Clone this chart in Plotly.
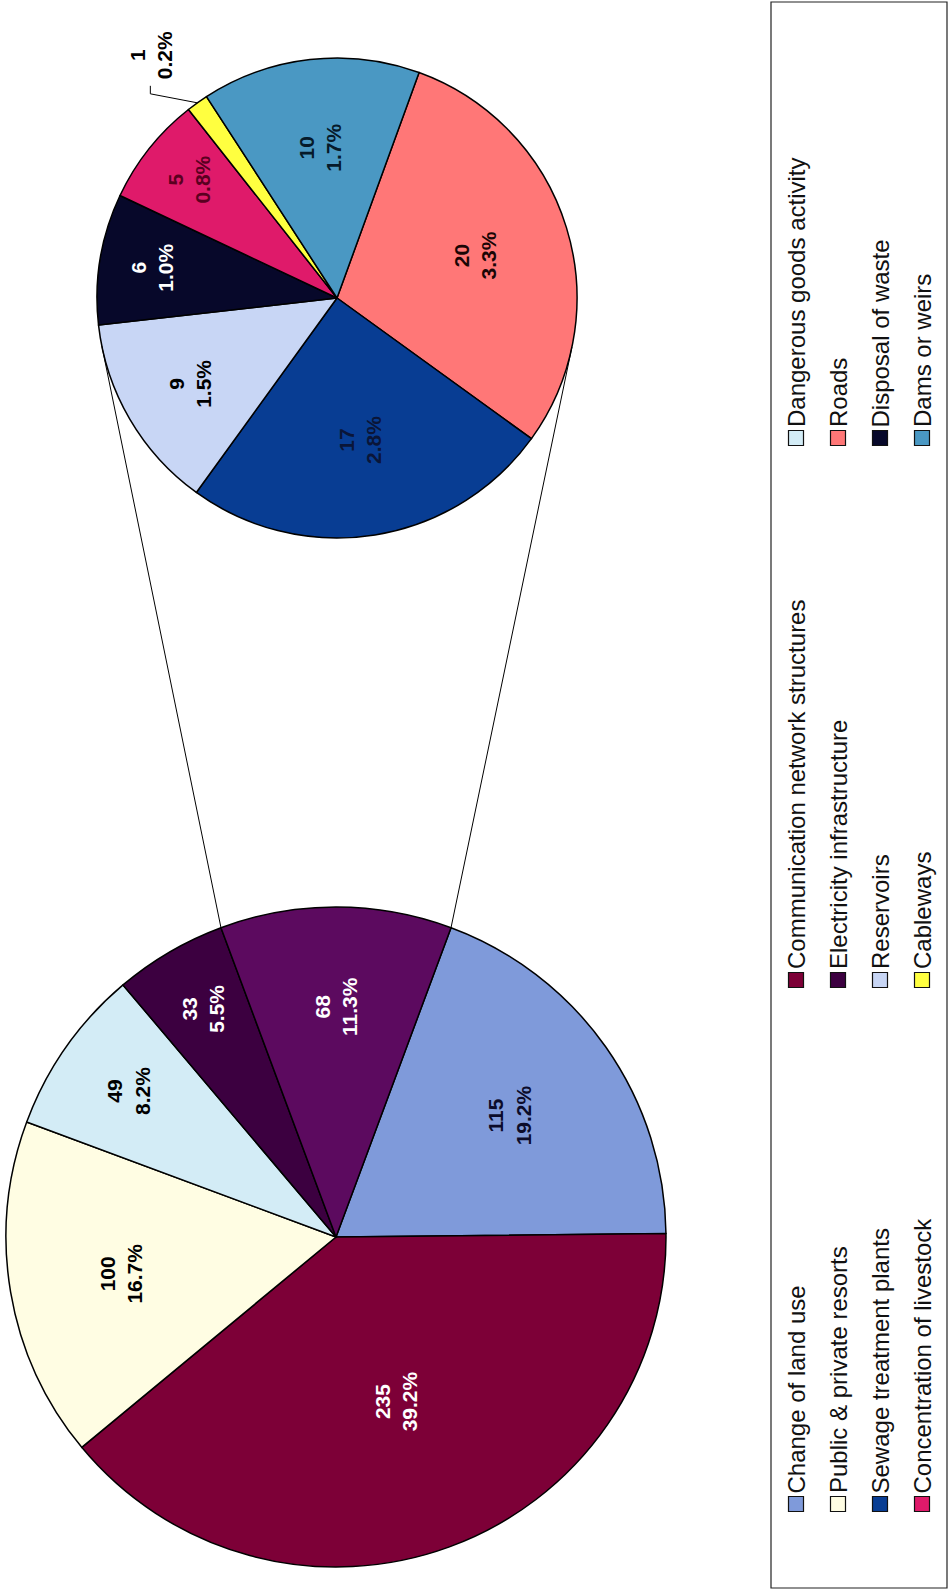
import math
import plotly.graph_objects as go

W, H = 949, 1594
FONT = "Arial, 'Liberation Sans', sans-serif"

# ---- data -------------------------------------------------------------
main_labels = ["Change of land use", "Communication network structures",
               "Public & private resorts", "Dangerous goods activity",
               "Electricity infrastructure", "Other"]
main_values = [115, 235, 100, 49, 33, 68]
main_colors = ["#7F9ADA", "#7D0037", "#FFFDE3", "#D3ECF6", "#3C0040", "#5C0A5F"]
main_text_colors = ["#0B0B2A", "#FFFFFF", "#000000", "#000000", "#FFFFFF", "#FFFFFF"]

sub_labels = ["Roads", "Sewage treatment plants", "Reservoirs", "Disposal of waste",
              "Concentration of livestock", "Cableways", "Dams or weirs"]
sub_values = [20, 17, 9, 6, 5, 1, 10]
sub_colors = ["#FF7777", "#083D93", "#C8D6F5", "#07082A", "#DF1A6A", "#FFFF40", "#4A98C3"]
sub_text_colors = ["#1A0505", "#0A1538", "#000000", "#FFFFFF", "#5A0020", "#000000", "#061A2A"]

legend_columns = [
    ["Change of land use", "Public & private resorts",
     "Sewage treatment plants", "Concentration of livestock"],
    ["Communication network structures", "Electricity infrastructure",
     "Reservoirs", "Cableways"],
    ["Dangerous goods activity", "Roads", "Disposal of waste", "Dams or weirs"],
]

total = sum(main_values)

# ---- layout geometry (pixels) ----------------------------------------
BIG = dict(cx=336, cy=1237, r=330)
SMALL = dict(cx=337, cy=298, r=240)
SMALL_ROTATION = 20
main_label_r = [0.64, 0.53, 0.66, 0.77, 0.80, 0.70]
sub_label_r = [0.60, 0.60, 0.71, 0.78, 0.79, None, 0.63]


def px(x):
    return x / W


def py(y):
    return 1 - y / H


def domain(g):
    return dict(x=[px(g["cx"] - g["r"]), px(g["cx"] + g["r"])],
                y=[py(g["cy"] + g["r"]), py(g["cy"] - g["r"])])


def point(g, ang, f=1.0):
    a = math.radians(ang)
    return g["cx"] + f * g["r"] * math.sin(a), g["cy"] - f * g["r"] * math.cos(a)


def slice_angles(values, rotation):
    s = sum(values)
    out, cur = [], rotation
    for v in values:
        span = v / s * 360
        out.append((cur, cur + span / 2, cur + span))
        cur += span
    return out


# the "Other" slice faces the secondary pie
main_rotation = main_values[-1] / total * 360 / 2

fig = go.Figure()
fig.add_trace(go.Pie(
    labels=main_labels, values=main_values, sort=False, direction="clockwise",
    rotation=main_rotation, domain=domain(BIG), textinfo="none", hoverinfo="label+value+percent",
    marker=dict(colors=main_colors, line=dict(color="#000000", width=1.5)),
    showlegend=False,
))
fig.add_trace(go.Pie(
    labels=sub_labels, values=sub_values, sort=False, direction="clockwise",
    rotation=SMALL_ROTATION, domain=domain(SMALL), textinfo="none", hoverinfo="label+value",
    marker=dict(colors=sub_colors, line=dict(color="#000000", width=1.5)),
    showlegend=False,
))

annotations = []
shapes = []


def value_label(v):
    return f"{v}<br>{v / total * 100:.1f}%"


def slice_text(x, y, v, color, **anchor):
    a = dict(xanchor="center", yanchor="middle")
    a.update(anchor)
    annotations.append(dict(x=px(x), y=py(y), xref="paper", yref="paper",
                            text=value_label(v), showarrow=False, textangle=-90,
                            font=dict(family=FONT, size=21, color=color, weight="bold"), **a))


# slice labels, drawn rotated like the rest of the chart
for (a0, am, a1), v, f, c in zip(slice_angles(main_values, main_rotation),
                                 main_values, main_label_r, main_text_colors):
    slice_text(*point(BIG, am, f), v, c)

for (a0, am, a1), v, f, c in zip(slice_angles(sub_values, SMALL_ROTATION),
                                 sub_values, sub_label_r, sub_text_colors):
    if f is None:
        # thin slice: label outside with a bent leader line
        ex, ey = point(SMALL, am)
        bx, by = ex - 47, ey - 9
        tx, ty = bx, by - 8
        shapes.append(dict(type="path", xref="paper", yref="paper",
                           path=f"M {px(ex)} {py(ey)} L {px(bx)} {py(by)} L {px(tx)} {py(ty)}",
                           line=dict(color="#000000", width=1)))
        slice_text(tx, ty - 5, v, c, yanchor="bottom")
        continue
    slice_text(*point(SMALL, am, f), v, c)

# connector lines from the "Other" slice to the secondary pie (tangents)
oa0, _, oa1 = slice_angles(main_values, main_rotation)[-1]
for ang, sign in ((oa0, 1), (oa1, -1)):
    p = point(BIG, ang)
    dx, dy = p[0] - SMALL["cx"], p[1] - SMALL["cy"]
    d = math.hypot(dx, dy)
    phi = math.degrees(math.atan2(dx, -dy))
    t = point(SMALL, phi + sign * math.degrees(math.acos(SMALL["r"] / d)))
    shapes.append(dict(type="line", xref="paper", yref="paper",
                       x0=px(p[0]), y0=py(p[1]), x1=px(t[0]), y1=py(t[1]),
                       line=dict(color="#000000", width=1)))

# legend box, drawn rotated
color_of = dict(zip(main_labels, main_colors))
color_of.update(zip(sub_labels, sub_colors))
shapes.append(dict(type="rect", xref="paper", yref="paper",
                   x0=px(771), x1=px(947), y0=py(2), y1=py(1588),
                   line=dict(color="#222222", width=1.2)))
row_x = [796, 838, 880, 922]
col_y = [1504, 980, 438]
MK = 15
for names, ystart in zip(legend_columns, col_y):
    for name, x in zip(names, row_x):
        shapes.append(dict(type="rect", xref="paper", yref="paper",
                           x0=px(x - MK / 2), x1=px(x + MK / 2),
                           y0=py(ystart + MK / 2), y1=py(ystart - MK / 2),
                           fillcolor=color_of[name], line=dict(color="#111111", width=1.2)))
        annotations.append(dict(x=px(x), y=py(ystart - MK / 2 - 1), xref="paper", yref="paper",
                                xanchor="center", yanchor="bottom", text=name,
                                showarrow=False, textangle=-90,
                                font=dict(family=FONT, size=24, color="#111111")))

fig.update_layout(
    width=W, height=H, margin=dict(l=0, r=0, t=0, b=0),
    paper_bgcolor="white", plot_bgcolor="white",
    annotations=annotations, shapes=shapes, showlegend=False,
)
fig.write_html("out.html")
